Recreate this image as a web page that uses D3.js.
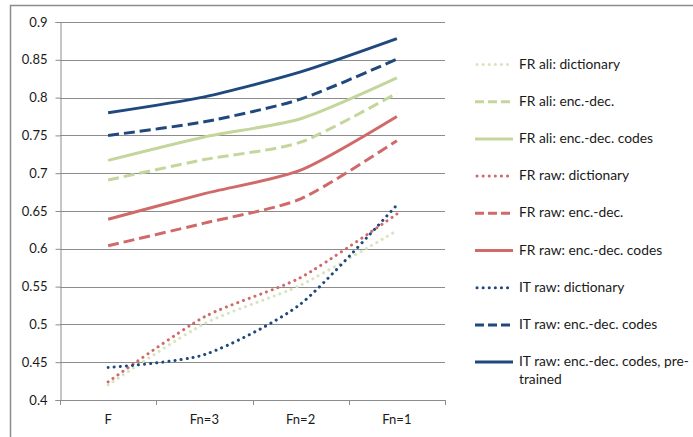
<!DOCTYPE html>
<html><head><meta charset="utf-8">
<script src="https://cdn.jsdelivr.net/npm/d3@7/dist/d3.min.js"></script>
<style>body{margin:0;background:#fff}svg{display:block}text{font-family:Lato,"Open Sans",sans-serif}</style>
</head><body><svg id="c" width="693" height="437"></svg>
<script>
const categories = ["F","Fn=3","Fn=2","Fn=1"];
const yTicks = [0.4,0.45,0.5,0.55,0.6,0.65,0.7,0.75,0.8,0.85,0.9];
const seriesNames = ["FR ali: dictionary","FR ali: enc.-dec.","FR ali: enc.-dec. codes","FR raw: dictionary","FR raw: enc.-dec.","FR raw: enc.-dec. codes","IT raw: dictionary","IT raw: enc.-dec. codes","IT raw: enc.-dec. codes, pre-trained"];
const frAliDict    = [0.420,0.501,0.552,0.624];
const frAliEncDec  = [0.691,0.718,0.741,0.806];
const frAliCodes   = [0.717,0.748,0.772,0.826];
const frRawDict    = [0.424,0.510,0.562,0.646];
const frRawEncDec  = [0.604,0.634,0.666,0.743];
const frRawCodes   = [0.639,0.673,0.704,0.775];
const itRawDict    = [0.443,0.460,0.527,0.658];
const itRawCodes   = [0.750,0.768,0.798,0.851];
const itRawPre     = [0.780,0.801,0.834,0.878];
const seriesValues = [frAliDict,frAliEncDec,frAliCodes,frRawDict,frRawEncDec,frRawCodes,itRawDict,itRawCodes,itRawPre];
const colors = ["#D7E4BD","#C3D69B","#C3D69B","#D06A68","#D06A68","#D06A68","#1F497D","#1F497D","#1F497D"];
const styles = ["dot","dash","solid","dot","dash","solid","dot","dash","solid"];

const svg = d3.select("#c");
svg.append("path").attr("d","M10.5,437 V5.5 H693").attr("fill","none").attr("stroke","#8c8c8c").attr("stroke-width",1.5);

const L=60, R=445, T=22, B=400;
const x = d3.scaleBand().domain(categories).range([L,R]);
const y = d3.scaleLinear().domain([0.4,0.9]).range([B,T]);

svg.append("g").selectAll("line").data(yTicks).join("line")
  .attr("x1",L).attr("x2",R).attr("y1",d=>Math.round(y(d))+0.5).attr("y2",d=>Math.round(y(d))+0.5)
  .attr("stroke","#8c8c8c").attr("stroke-width",1);

const yAxis = svg.append("g").attr("transform",`translate(${L+0.5},0)`)
  .call(d3.axisLeft(y).tickValues(yTicks).tickSize(5).tickPadding(8).tickFormat(d=>String(+d.toFixed(2))));
yAxis.select(".domain").attr("stroke","#8c8c8c");
yAxis.selectAll(".tick line").attr("stroke","#8c8c8c");
yAxis.selectAll("text").attr("font-size",13).attr("fill","#1a1a1a").attr("font-family","Lato,sans-serif");

const xAxis = svg.append("g").attr("transform",`translate(0,${B+0.5})`)
  .call(d3.axisBottom(x).tickSize(0).tickPadding(14));
xAxis.select(".domain").attr("stroke","#8c8c8c").attr("d",`M${L},0H${R}`);
xAxis.selectAll("text").attr("font-size",13).attr("fill","#1a1a1a");
const bounds = categories.map(c=>x(c)).concat([R]);
svg.append("g").selectAll("line").data(bounds).join("line")
  .attr("x1",d=>Math.round(d)+0.5).attr("x2",d=>Math.round(d)+0.5).attr("y1",B).attr("y2",B+5)
  .attr("stroke","#8c8c8c");

function dashFor(s){ return s==="dot" ? "0.1,6" : s==="dash" ? "11,5" : null; }
function capFor(s){ return s==="dot" ? "round" : "butt"; }

const line = d3.line().x((d,i)=>x(categories[i])+x.bandwidth()/2).y(d=>y(d)).curve(d3.curveCardinal.tension(0.3));
svg.append("g").selectAll("path").data(d3.range(seriesValues.length)).join("path")
  .attr("d",i=>line(seriesValues[i])).attr("fill","none")
  .attr("stroke",i=>colors[i]).attr("stroke-width",3)
  .attr("stroke-dasharray",i=>dashFor(styles[i])).attr("stroke-linecap",i=>capFor(styles[i]));

const lg = svg.append("g");
const ly0 = 64, ldy = 37.2;
seriesNames.forEach((n,i)=>{
  const yy = ly0 + i*ldy;
  lg.append("line").attr("x1",styles[i]==="dot"?477:475).attr("x2",513).attr("y1",yy+0.5).attr("y2",yy+0.5)
    .attr("stroke",colors[i]).attr("stroke-width",3)
    .attr("stroke-dasharray",styles[i]==="dot"?"0.1,6":styles[i]==="dash"?"9,4":null)
    .attr("stroke-linecap",capFor(styles[i]));
  const t = lg.append("text").attr("x",519).attr("y",yy+4.5).attr("font-size",13.8).attr("fill","#1a1a1a");
  if(n.endsWith("pre-trained")){
    t.append("tspan").attr("x",519).text(n.replace("trained",""));
    t.append("tspan").attr("x",519).attr("dy",17.5).text("trained");
  } else t.text(n);
});
</script></body></html>
